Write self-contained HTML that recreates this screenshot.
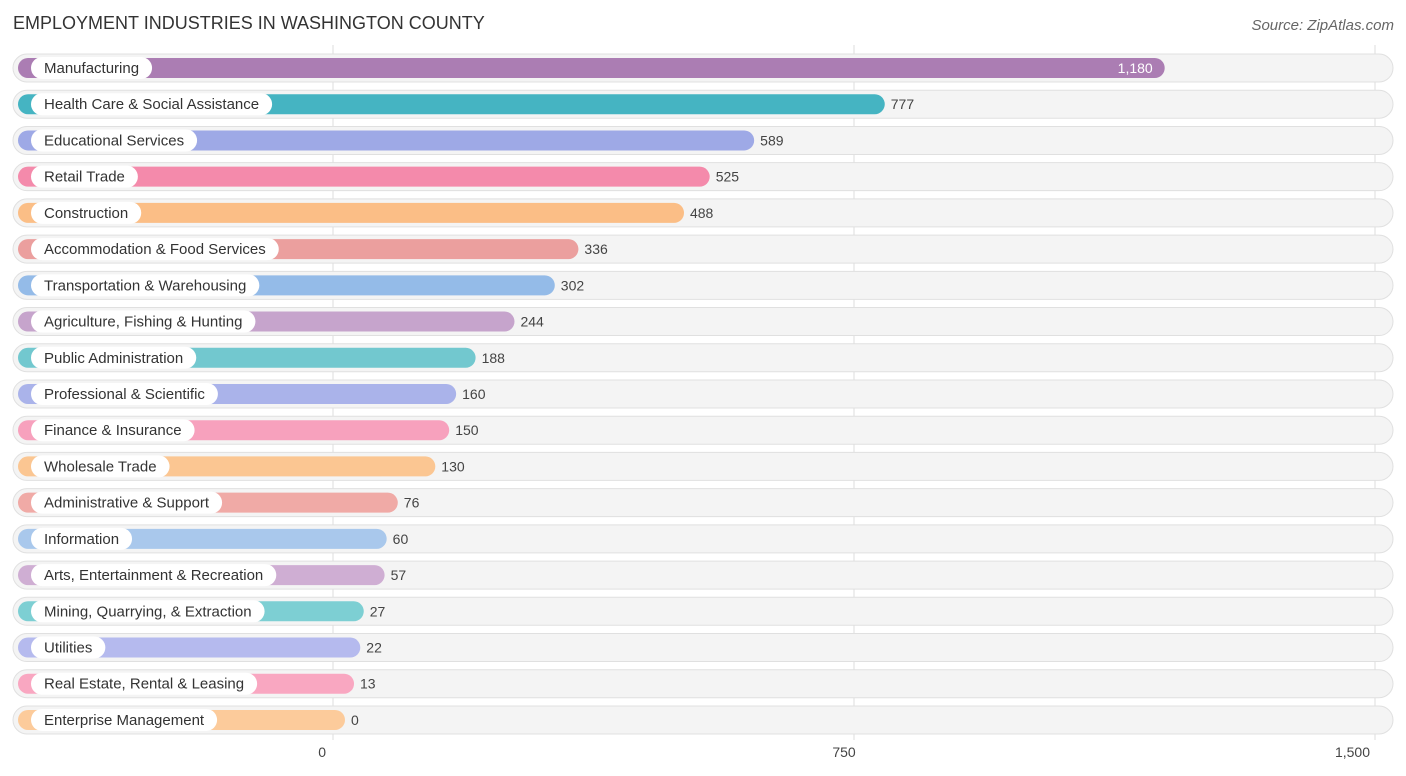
<!DOCTYPE html>
<html><head><meta charset="utf-8"><style>
body{margin:0;background:#fff;font-family:"Liberation Sans",sans-serif;}
svg{display:block}
</style></head><body>
<svg id="chart" width="1406" height="776" xmlns="http://www.w3.org/2000/svg">
<text x="13" y="29" font-size="18" fill="#333">EMPLOYMENT INDUSTRIES IN WASHINGTON COUNTY</text>
<text x="1394" y="30" font-size="15" fill="#666" font-style="italic" text-anchor="end">Source: ZipAtlas.com</text>
<g id="grid"></g><g id="rows"></g><g id="ticks"></g>
</svg>
<script>
const categories=["Manufacturing","Health Care & Social Assistance","Educational Services","Retail Trade","Construction","Accommodation & Food Services","Transportation & Warehousing","Agriculture, Fishing & Hunting","Public Administration","Professional & Scientific","Finance & Insurance","Wholesale Trade","Administrative & Support","Information","Arts, Entertainment & Recreation","Mining, Quarrying, & Extraction","Utilities","Real Estate, Rental & Leasing","Enterprise Management"];
const values=[1180,777,589,525,488,336,302,244,188,160,150,130,76,60,57,27,22,13,0];
const colors=["#ab7db3","#45b4c2","#9ea9e6","#f48aab","#fbbe86","#eb9f9e","#94bbe8","#c6a4cc","#72c8cf","#aab3ea","#f7a1bd","#fbc692","#f0aaa6","#a9c8ec","#cfaed3","#7dcfd3","#b5baee","#f9a7c1","#fccb9b"];
const tickValues=[0,750,1500];
const tickLabels=["0","750","1,500"];
const NS="http://www.w3.org/2000/svg";
const x0=333,k=521/750,barStart=18,pad=12;
const xs=v=>x0+v*k;
const ys=i=>68+i*36.22;
function mk(t,a,p){const e=document.createElementNS(NS,t);for(const n in a)e.setAttribute(n,a[n]);p.appendChild(e);return e;}
const grid=document.getElementById('grid'),rows=document.getElementById('rows'),ticks=document.getElementById('ticks');
tickValues.forEach((v,i)=>{
  const l=mk('line',{x1:xs(v),x2:xs(v),y1:45,y2:740,stroke:'#ddd','stroke-width':1},grid);
  
  
  const last=i==tickValues.length-1;
  const anchor=(i==0||last)?'end':'middle';
  const dx=i==0?-7:(last?-5:-10);
  const t=mk('text',{x:xs(v)+dx,y:757,'font-size':14,fill:'#444','text-anchor':anchor},ticks);
  t.textContent=tickLabels[i];
  
  
});
categories.forEach((c,i)=>{
  const y=ys(i);
  const g=mk('g',{},rows);
  
  
  const bg=mk('rect',{x:13,y:y-14,width:1380,height:28,rx:14,fill:'#f4f4f4',stroke:'#e0e0e0','stroke-width':1},g);
  
  
  const end=xs(values[i])+pad;
  const bar=mk('rect',{x:barStart,y:y-10,width:end-barStart,height:20,rx:10,fill:colors[i]},g);
  
  
  const pill=mk('rect',{x:31,y:y-11,width:100,height:22,rx:11,fill:'#fff'},g);
  
  
  const lbl=mk('text',{x:44,y:y+5,'font-size':15,fill:'#333'},g);
  lbl.textContent=c;
  
  
  let w=0;
  try{w=lbl.getComputedTextLength();}catch(e){w=0;}
  if(!w)w=c.length*7.6;
  pill.setAttribute('width',w+26);
  const inside=i==0;
  const val=mk('text',{x:inside?end-12:end+6,y:y+5,'font-size':14,fill:inside?'#fff':'#444','text-anchor':inside?'end':'start'},g);
  val.textContent=values[i].toLocaleString('en-US');
  
  
});
</script>
</body></html>
